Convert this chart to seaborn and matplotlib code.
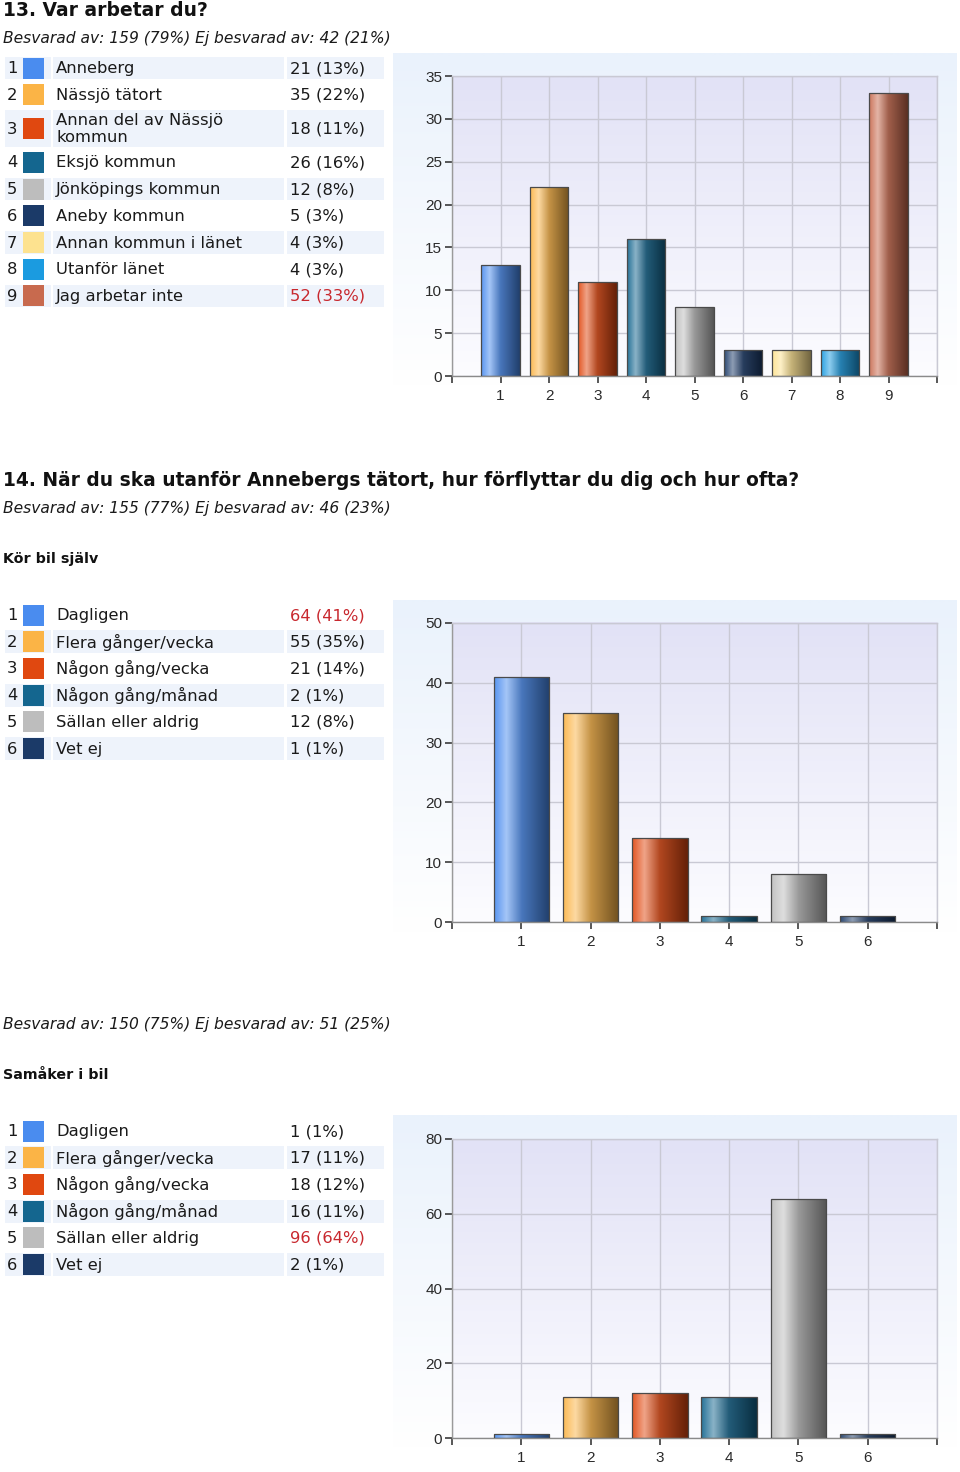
import numpy as np
import pandas as pd
import matplotlib
matplotlib.use("Agg")
import matplotlib.pyplot as plt
import seaborn as sns
from matplotlib import font_manager
from matplotlib.colors import to_rgb
from matplotlib.patches import Rectangle

# ------------------------------------------------------------------ data
q13_title = "13. Var arbetar du?"
q13_answered = "Besvarad av: 159 (79%) Ej besvarad av: 42 (21%)"
q13_labels = ["Anneberg", "Nässjö tätort", "Annan del av Nässjö\nkommun", "Eksjö kommun",
              "Jönköpings kommun", "Aneby kommun", "Annan kommun i länet",
              "Utanför länet", "Jag arbetar inte"]
q13_counts = [21, 35, 18, 26, 12, 5, 4, 4, 52]
q13_pcts = [13, 22, 11, 16, 8, 3, 3, 3, 33]
q13_yticks = [0, 5, 10, 15, 20, 25, 30, 35]

q14_title = "14. När du ska utanför Annebergs tätort, hur förflyttar du dig och hur ofta?"
q14_labels = ["Dagligen", "Flera gånger/vecka", "Någon gång/vecka", "Någon gång/månad",
              "Sällan eller aldrig", "Vet ej"]

q14a_answered = "Besvarad av: 155 (77%) Ej besvarad av: 46 (23%)"
q14a_sub = "Kör bil själv"
q14a_counts = [64, 55, 21, 2, 12, 1]
q14a_pcts = [41, 35, 14, 1, 8, 1]
q14a_yticks = [0, 10, 20, 30, 40, 50]

q14b_answered = "Besvarad av: 150 (75%) Ej besvarad av: 51 (25%)"
q14b_sub = "Samåker i bil"
q14b_counts = [1, 17, 18, 16, 96, 2]
q14b_pcts = [1, 11, 12, 11, 64, 1]
q14b_yticks = [0, 20, 40, 60, 80]

colors = ["#4a8cef", "#fbb446", "#e04810", "#14668f", "#bdbdbd",
          "#1b3a68", "#fde28f", "#1b9be0", "#c86a4e"]

# ------------------------------------------------------------------ style
sns.set_style("white", {"xtick.bottom": True, "ytick.left": True})
plt.rcParams["font.family"] = ["DejaVu Sans"]
names = {f.name for f in font_manager.fontManager.ttflist}
tick_font = "Liberation Sans Narrow" if "Liberation Sans Narrow" in names else "Liberation Sans"

W, H = 960, 1472
ROW_BG = "#eef3fb"
GRID = "#c9c9d4"
TXT = "#1a1a1a"
RED = "#c8282e"
TABLE_FS = 11.8

fig = plt.figure(figsize=(9.6, 14.72), dpi=100)
fig.patch.set_facecolor("white")


def fig_rect(x0, y0, x1, y1):
    return [x0 / W, 1 - y1 / H, (x1 - x0) / W, (y1 - y0) / H]


overlay = fig.add_axes([0, 0, 1, 1], zorder=5)
overlay.set_xlim(0, W)
overlay.set_ylim(H, 0)
overlay.axis("off")
overlay.patch.set_alpha(0)


def vgrad(top, bottom, n=64):
    t = np.linspace(0, 1, n)[:, None]
    a, b = np.array(to_rgb(top)), np.array(to_rgb(bottom))
    return (a * (1 - t) + b * t)[:, None, :]


def bar_gradient(c, n=96):
    c = np.array(to_rgb(c))
    w = np.ones(3)
    stops_t = [0.0, 0.22, 0.5, 1.0]
    stops_c = [c * 0.92 + w * 0.08, c * 0.5 + w * 0.5, c * 0.7 + 0.08, c * 0.45]
    t = np.linspace(0, 1, n)
    img = np.stack([np.interp(t, stops_t, [s[k] for s in stops_c]) for k in range(3)], axis=-1)
    return np.clip(img[None, :, :], 0, 1)


def draw_table(top, labels, counts, pcts, shade_even_index):
    y = top
    imax = int(np.argmax(counts))
    row_h = 26.7
    for i, (lab, c, p) in enumerate(zip(labels, counts, pcts)):
        h = 41.0 if "\n" in lab else row_h
        shaded = (i % 2 == 0) if shade_even_index else (i % 2 == 1)
        if shaded:
            for (a, b) in [(5, 51), (53, 284), (287, 384)]:
                overlay.add_patch(Rectangle((a, y + 2), b - a, h - 4,
                                            facecolor=ROW_BG, edgecolor="none"))
        cy = y + h / 2
        overlay.add_patch(Rectangle((23, cy - 10.5), 21, 21, facecolor=colors[i],
                                    edgecolor="none"))
        overlay.text(7, cy + 0.5, str(i + 1), va="center", ha="left", fontsize=TABLE_FS, color=TXT)
        overlay.text(56, cy + 0.5, lab, va="center", ha="left", fontsize=TABLE_FS, color=TXT,
                     linespacing=1.1)
        overlay.text(290, cy + 0.5, f"{c} ({p}%)", va="center", ha="left", fontsize=TABLE_FS,
                     color=RED if i == imax else TXT)
        y += h


def draw_chart(panel_box, plot_box, pcts, yticks):
    n = len(pcts)
    pax = fig.add_axes(fig_rect(*panel_box), zorder=0)
    px0, py0, px1, py1 = panel_box
    pax.imshow(vgrad("#eaf2fc", "#ffffff"), extent=(px0, px1, py1, py0), aspect="auto",
               interpolation="bilinear")
    qx0, qy0, qx1, qy1 = plot_box
    pax.imshow(vgrad("#e2e2f6", "#fcfcff"), extent=(qx0, qx1, qy1, qy0), aspect="auto",
               interpolation="bilinear")
    pax.set_xlim(px0, px1)
    pax.set_ylim(py1, py0)
    pax.axis("off")

    ax = fig.add_axes(fig_rect(*plot_box), zorder=1)
    ax.patch.set_alpha(0)
    df = pd.DataFrame({"pos": np.arange(1, n + 1), "pct": pcts,
                       "cat": [str(i) for i in range(1, n + 1)]})
    sns.barplot(data=df, x="pos", y="pct", hue="cat", palette=colors[:n],
                native_scale=True, dodge=False, legend=False, ax=ax, width=0.8,
                saturation=1, edgecolor="#4a4a4a", linewidth=0.9)
    for patch in list(ax.patches):
        bx, by = patch.get_x(), patch.get_y()
        bw, bh = patch.get_width(), patch.get_height()
        idx = int(round(bx + bw / 2)) - 1
        im = ax.imshow(bar_gradient(colors[idx]), extent=(bx, bx + bw, by, by + bh),
                       aspect="auto", interpolation="bilinear", zorder=2)
        im.set_clip_path(patch)
        patch.set_facecolor("none")
        patch.set_zorder(3)

    ax.set_xlim(0, n + 1)
    ax.set_ylim(0, yticks[-1])
    ax.set_xticks(range(0, n + 2))
    ax.set_xticklabels([""] + [str(i) for i in range(1, n + 1)] + [""])
    ax.set_yticks(yticks)
    ax.set_yticklabels([str(v) for v in yticks])
    ax.set_xlabel("")
    ax.set_ylabel("")
    ax.grid(True, color=GRID, lw=1)
    ax.set_axisbelow(True)
    ax.tick_params(axis="both", colors="#2a2a2a", labelsize=11, length=5, width=1.1,
                   direction="out")
    ax.tick_params(axis="x", bottom=True, pad=4)
    ax.tick_params(axis="y", left=True, pad=2)
    for lab in ax.get_xticklabels() + ax.get_yticklabels():
        lab.set_fontfamily(tick_font)
    for s in ("top", "right"):
        ax.spines[s].set_visible(True)
        ax.spines[s].set_color(GRID)
        ax.spines[s].set_linewidth(1)
    ax.spines["left"].set_color("#9a9a9a")
    ax.spines["bottom"].set_color("#8a8a8a")
    ax.spines["left"].set_linewidth(1)
    ax.spines["bottom"].set_linewidth(1)
    return ax


# ------------------------------------------------------------------ section 13
overlay.text(3, 11, q13_title, fontsize=13.5, fontweight="bold", va="center", color="#111")
overlay.text(3, 38, q13_answered, fontsize=11.2, style="italic", va="center", color=TXT)
draw_table(54.7, q13_labels, q13_counts, q13_pcts, shade_even_index=True)
draw_chart((393, 53, 957, 388), (452, 76, 937, 376), q13_pcts, q13_yticks)

# ------------------------------------------------------------------ section 14a
overlay.text(3, 481, q14_title, fontsize=13.4, fontweight="bold", va="center", color="#111")
overlay.text(3, 508, q14a_answered, fontsize=11.2, style="italic", va="center", color=TXT)
overlay.text(3, 559, q14a_sub, fontsize=10.3, fontweight="bold", va="center", color="#111")
draw_table(601.7, q14_labels, q14a_counts, q14a_pcts, shade_even_index=False)
draw_chart((393, 600, 957, 935), (452, 623, 937, 922), q14a_pcts, q14a_yticks)

# ------------------------------------------------------------------ section 14b
overlay.text(3, 1024, q14b_answered, fontsize=11.2, style="italic", va="center", color=TXT)
overlay.text(3, 1075, q14b_sub, fontsize=10.3, fontweight="bold", va="center", color="#111")
draw_table(1117.7, q14_labels, q14b_counts, q14b_pcts, shade_even_index=False)
draw_chart((393, 1115, 957, 1450), (452, 1139, 937, 1438), q14b_pcts, q14b_yticks)

fig.savefig("out.png", dpi=100, facecolor="white")
